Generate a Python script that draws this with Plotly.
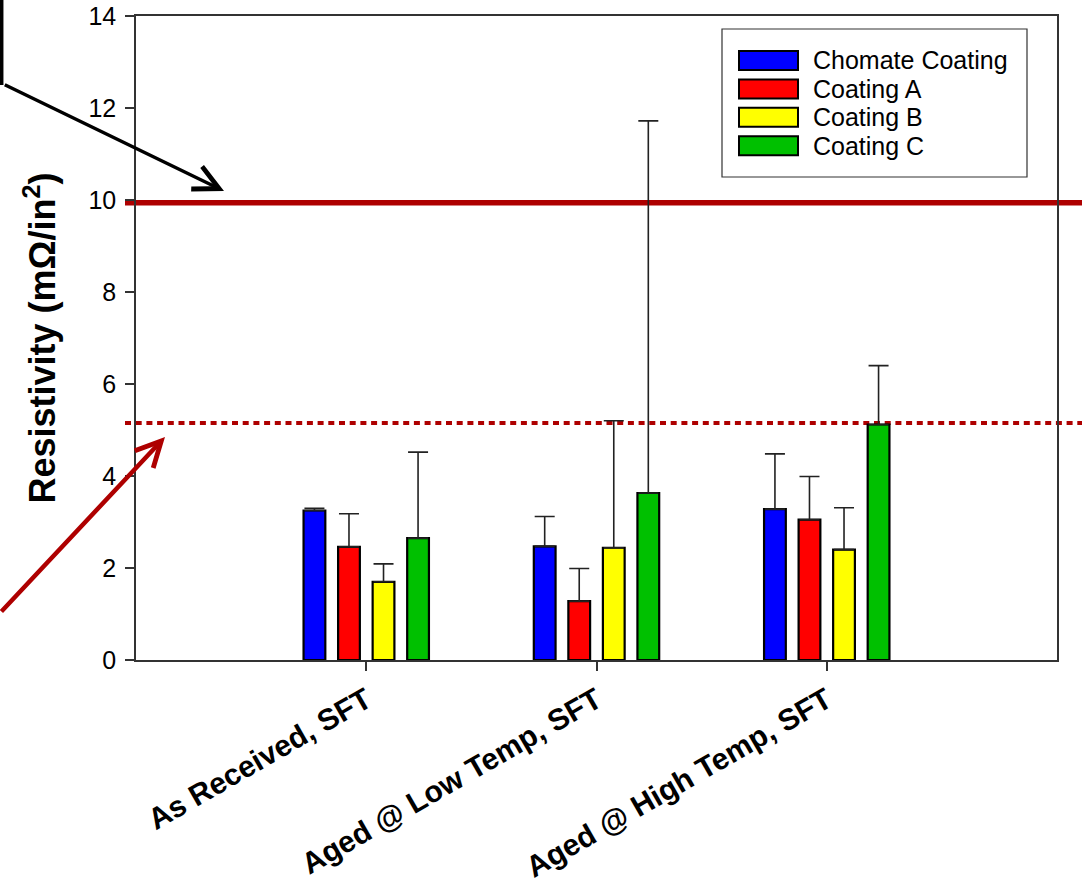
import plotly.graph_objects as go

# ---------------- data ----------------
categories = ["As Received, SFT", "Aged @ Low Temp, SFT", "Aged @ High Temp, SFT"]
series_names = ["Chomate Coating", "Coating A", "Coating B", "Coating C"]

chromate = [3.25, 2.47, 3.28]
coating_a = [2.46, 1.28, 3.05]
coating_b = [1.70, 2.44, 2.40]
coating_c = [2.65, 3.63, 5.12]

chromate_err = [0.05, 0.65, 1.20]
coating_a_err = [0.72, 0.71, 0.94]
coating_b_err = [0.39, 2.76, 0.91]
coating_c_err = [1.87, 8.09, 1.28]

bar_colors = ["#0000FF", "#FF0000", "#FFFF00", "#00C000"]

upper_limit = 9.94
lower_limit = 5.15

y_ticks = [0, 2, 4, 6, 8, 10, 12, 14]

# ---------------- layout helpers ----------------
W, H = 1082, 881
ML, MR, MT, MB = 136, 25, 16, 221
PW, PH = W - ML - MR, H - MT - MB


def px(x):
    return (x - ML) / PW


def py(y):
    return (H - MB - y) / PH


values = [chromate, coating_a, coating_b, coating_c]
errors = [chromate_err, coating_a_err, coating_b_err, coating_c_err]

fig = go.Figure()
for name, vals, errs, col in zip(series_names, values, errors, bar_colors):
    fig.add_trace(go.Bar(
        x=categories, y=vals, name=name,
        marker=dict(color=col, line=dict(color="black", width=2.2)),
        error_y=dict(type="data", symmetric=False, array=errs,
                     arrayminus=[0] * len(errs),
                     color="#222222", thickness=1.6, width=10),
        showlegend=False,
    ))

shapes = []
# reference lines (extend beyond plot area)
shapes.append(dict(type="line", xref="paper", yref="y", x0=px(125), x1=px(1085),
                   y0=upper_limit, y1=upper_limit, layer="below",
                   line=dict(color="#AE0000", width=5.5)))
shapes.append(dict(type="line", xref="paper", yref="y", x0=px(125), x1=px(1085),
                   y0=lower_limit, y1=lower_limit, layer="below",
                   line=dict(color="#AE0000", width=4, dash="6px,4.7px")))
# fragment of a callout box at top-left
shapes.append(dict(type="line", xref="paper", yref="paper", x0=px(1.7), x1=px(1.7),
                   y0=py(-2), y1=py(85), line=dict(color="black", width=3.5)))

# custom legend
shapes.append(dict(type="rect", xref="paper", yref="paper",
                   x0=px(722), x1=px(1027), y0=py(177), y1=py(29),
                   fillcolor="white", line=dict(color="#333333", width=1.2)))
row_y = [60.4, 88.9, 117.3, 145.8]
annotations = []
for name, col, ry in zip(series_names, bar_colors, row_y):
    shapes.append(dict(type="rect", xref="paper", yref="paper",
                       x0=px(739), x1=px(798), y0=py(ry + 9.5), y1=py(ry - 9.5),
                       fillcolor=col, line=dict(color="black", width=2)))
    annotations.append(dict(xref="paper", yref="paper", x=px(811), y=py(ry),
                            xanchor="left", yanchor="middle", text=name,
                            showarrow=False,
                            font=dict(family="Liberation Sans, Arial", size=25,
                                      color="black")))

# arrows
annotations.append(dict(xref="paper", yref="paper", x=px(224), y=py(191),
                        text="", showarrow=True, ax=3.3 - 224, ay=84 - 191,
                        arrowhead=5, arrowsize=1.4, arrowwidth=3.5,
                        arrowcolor="black", standoff=0))
annotations.append(dict(xref="paper", yref="paper", x=px(165), y=py(437),
                        text="", showarrow=True, ax=-8 - 165, ay=613 - 437,
                        arrowhead=5, arrowsize=1.1, arrowwidth=4.5,
                        arrowcolor="#AE0000", standoff=0))

fig.update_layout(
    width=W, height=H,
    margin=dict(l=ML, r=MR, t=MT, b=MB, autoexpand=False),
    paper_bgcolor="white", plot_bgcolor="rgba(0,0,0,0)",
    barmode="group", bargap=0.4, bargroupgap=0.37,
    font=dict(family="Liberation Sans, Arial", color="black"),
    shapes=shapes, annotations=annotations,
    showlegend=False,
)

fig.update_xaxes(
    type="category", range=[-1, 3],
    showline=True, linecolor="#333333", linewidth=1.5, mirror=True,
    ticks="outside", ticklen=9, tickwidth=1.5, tickcolor="#333333",
    tickangle=-30, showgrid=False, zeroline=False,
    tickfont=dict(family="Liberation Sans, Arial", size=30, color="black",
                  weight="bold"),
)
fig.update_yaxes(
    range=[0, 14], tickvals=y_ticks,
    showline=True, linecolor="#333333", linewidth=1.5, mirror=True,
    ticks="outside", ticklen=9, tickwidth=1.5, tickcolor="#333333",
    ticklabelstandoff=4,
    showgrid=False, zeroline=False,
    tickfont=dict(family="Liberation Sans, Arial", size=25, color="black"),
    title=dict(text="Resistivity (mΩ/in<sup>2</sup>)", standoff=22,
               font=dict(family="Liberation Sans, Arial", size=36,
                         color="black", weight="bold")),
)

fig.write_html("out.html")
